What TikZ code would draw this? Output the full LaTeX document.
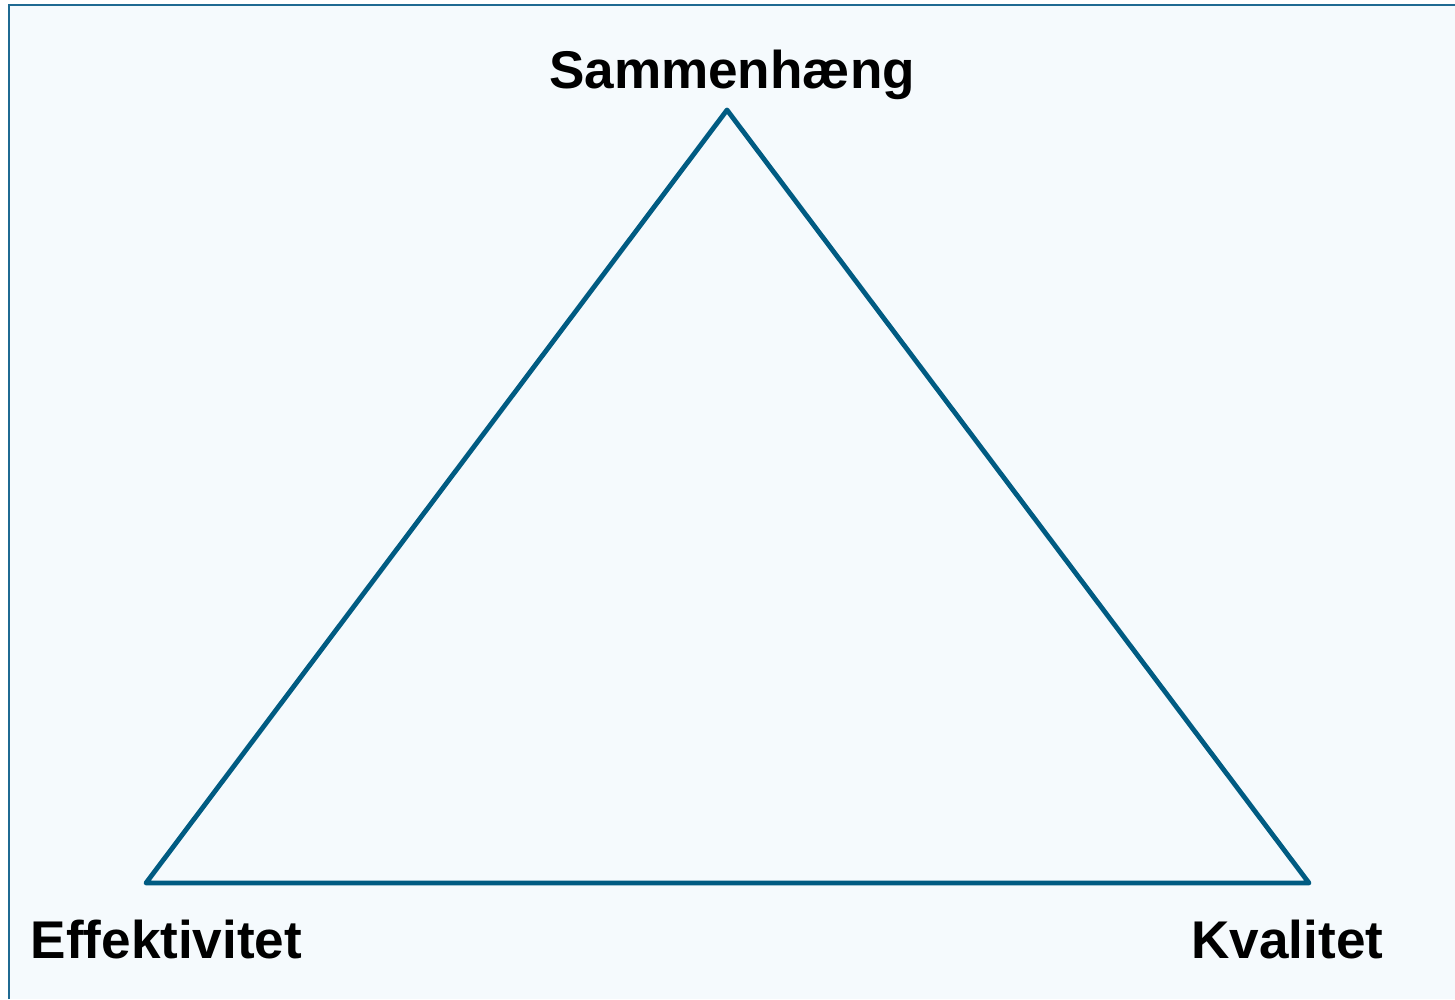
\documentclass[tikz,border=0pt]{standalone}
\usepackage{fontspec}
\setmainfont{Liberation Sans}
\usepackage{tikz}
\usepackage{xcolor}
\definecolor{edgeblue}{HTML}{005B82}
\definecolor{frameblue}{HTML}{1F6A92}
\definecolor{paleback}{HTML}{F5FAFD}

\begin{document}
\begin{tikzpicture}[
    x=0.01cm, y=-0.01cm,
    side/.style={draw=edgeblue, line width=0.048cm, line join=round, line cap=round},
    corner/.style={inner sep=0pt, font=\fontsize{15.1}{18}\selectfont\bfseries},
]
    \useasboundingbox (0,0) rectangle (1455,999);
    \fill[paleback] (9,5) rectangle (1455,999);
    \draw[frameblue, line width=0.025cm] (9,999) -- (9,5) -- (1455,5);

    \coordinate (top) at (727,110);
    \coordinate (left) at (146,883);
    \coordinate (right) at (1309,883);

    \draw[side] (top) -- (right) -- (left) -- cycle;

    \node[corner, anchor=base] (samm) at (732,88) {Sammenhæng};
    \node[corner, anchor=base west] (eff) at (30,958) {Effektivitet};
    \node[corner, anchor=base east] (kval) at (1384,958) {Kvalitet};
\end{tikzpicture}
\end{document}
